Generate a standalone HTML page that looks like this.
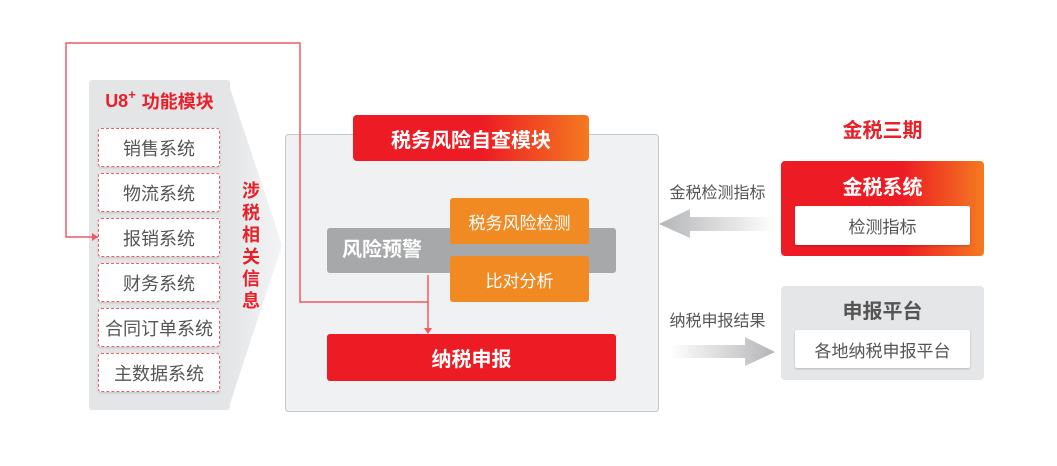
<!DOCTYPE html>
<html><head><meta charset="utf-8"><style>
body{margin:0;width:1057px;height:466px;background:#fff;position:relative;overflow:hidden;font-family:"Liberation Sans","Noto Sans CJK SC",sans-serif}
div{position:absolute;box-sizing:border-box}
.c{display:flex;align-items:center;justify-content:center}
.item{left:98px;width:122px;height:39px;background:#fff;border:1px dashed #e8606a;border-radius:3px;color:#555;font-size:18px;box-shadow:0 1px 2px rgba(0,0,0,.15)}
</style></head><body>
<svg style="position:absolute;left:0;top:0" width="1057" height="466">
<defs>
<linearGradient id="ch" x1="0" x2="1"><stop offset="0" stop-color="#e4e5e7"/><stop offset="1" stop-color="#f3f4f5"/></linearGradient>
<linearGradient id="la" x1="0" x2="1"><stop offset="0" stop-color="#b4b5b8"/><stop offset="1" stop-color="#b4b5b8" stop-opacity="0"/></linearGradient>
<linearGradient id="ra" x1="0" x2="1"><stop offset="0" stop-color="#b4b5b8" stop-opacity="0"/><stop offset="1" stop-color="#b4b5b8"/></linearGradient>
</defs>
<rect x="89" y="80" width="141" height="330" rx="3" fill="#e4e5e7"/>
<polygon points="228,82 282,245 228,410" fill="url(#ch)"/>
<rect x="285.5" y="134.5" width="373" height="277" rx="3" fill="#f0f1f3" stroke="#c8c8c8"/>
<polygon points="659,224 690,209 690,217 775,217 775,231 690,231 690,238" fill="url(#la)"/>
<polygon points="670,345 745,345 745,337 775,352 745,366 745,358 670,358" fill="url(#ra)"/>
</svg>
<div class="c" style="left:89px;top:86px;width:141px;height:30px;color:#e8202a;font-weight:bold;font-size:18px">U8<span style="font-size:13px;position:relative;top:-7px;margin-right:6px">+</span>功能模块</div>
<div class="item c" style="top:128px">销售系统</div>
<div class="item c" style="top:173px">物流系统</div>
<div class="item c" style="top:218px">报销系统</div>
<div class="item c" style="top:263px">财务系统</div>
<div class="item c" style="top:308px">合同订单系统</div>
<div class="item c" style="top:353px">主数据系统</div>
<div style="left:240px;top:180px;width:22px;color:#e8202a;font-weight:bold;font-size:18px;line-height:22px;text-align:center">涉税相关信息</div>
<div class="c" style="left:353px;top:115px;width:236px;height:46px;border-radius:4px;background:linear-gradient(90deg,#ed1c24 55%,#f47a20);color:#fff;font-weight:bold;font-size:20px">税务风险自查模块</div>
<div style="left:327px;top:228px;width:289px;height:45px;border-radius:3px;background:#a7a8aa;color:#fff;font-weight:bold;font-size:20px;line-height:45px;padding-left:15px">风险预警</div>
<div class="c" style="left:450px;top:198px;width:139px;height:46px;border-radius:3px;background:#f28a24;color:#fff;font-size:17px">税务风险检测</div>
<div class="c" style="left:450px;top:256px;width:139px;height:46px;border-radius:3px;background:#f28a24;color:#fff;font-size:17px">比对分析</div>
<div class="c" style="left:327px;top:334px;width:289px;height:47px;border-radius:3px;background:#ed1c24;color:#fff;font-weight:bold;font-size:20px">纳税申报</div>
<svg style="position:absolute;left:0;top:0" width="1057" height="466">
<polyline points="98,237 66,237 66,43 300,43 300,302 428,302" fill="none" stroke="#ef5a62" stroke-width="1.5"/>
<line x1="428" y1="275" x2="428" y2="329" stroke="#ef5a62" stroke-width="1.5"/>
<polygon points="424,328 432,328 428,334" fill="#ef5a62"/>
<polygon points="98,237 92,233 92,241" fill="#ef5a62"/>
</svg>
<div class="c" style="left:781px;top:113px;width:203px;height:30px;color:#e8202a;font-weight:bold;font-size:20px">金税三期</div>
<div style="left:781px;top:161px;width:203px;height:95px;border-radius:4px;background:linear-gradient(90deg,#ed1c24 60%,#f47a20)"></div>
<div class="c" style="left:781px;top:168px;width:203px;height:34px;color:#fff;font-weight:bold;font-size:20px">金税系统</div>
<div class="c" style="left:795px;top:206px;width:175px;height:39px;background:#fff;border-radius:2px;color:#555;font-size:17px;box-shadow:0 1px 2px rgba(0,0,0,.2)">检测指标</div>
<div style="left:781px;top:286px;width:203px;height:94px;border-radius:4px;background:#e5e6e8"></div>
<div class="c" style="left:781px;top:292px;width:203px;height:34px;color:#555;font-weight:bold;font-size:20px">申报平台</div>
<div class="c" style="left:795px;top:330px;width:175px;height:38px;background:#fff;border-radius:2px;color:#555;font-size:17px;box-shadow:0 1px 2px rgba(0,0,0,.2)">各地纳税申报平台</div>
<div class="c" style="left:660px;top:178px;width:115px;height:26px;color:#555;font-size:16px">金税检测指标</div>
<div class="c" style="left:660px;top:306px;width:115px;height:26px;color:#555;font-size:16px">纳税申报结果</div>
</body></html>
